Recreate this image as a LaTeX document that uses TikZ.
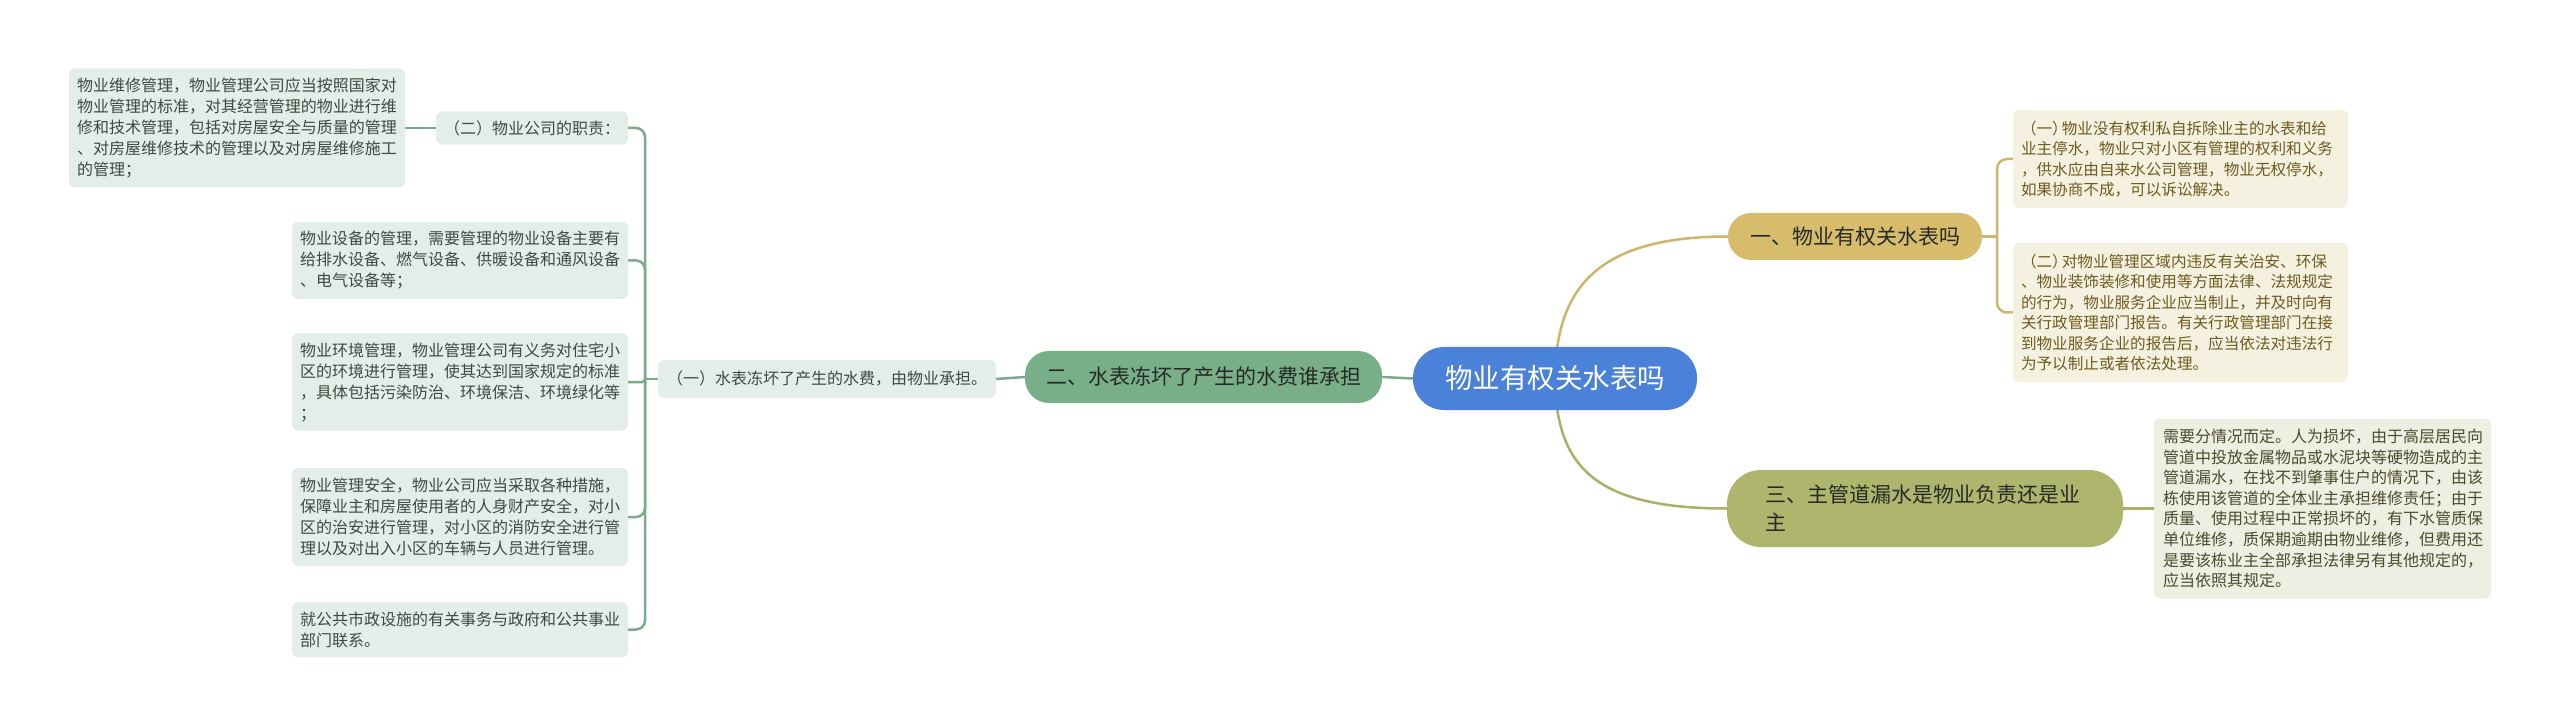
\documentclass[tikz,border=0pt]{standalone}
\usepackage{fontspec}
\setmainfont{Noto Sans CJK SC}
\usetikzlibrary{backgrounds}
\definecolor{rootblue}{HTML}{4A82D9}
\definecolor{grn}{HTML}{78AE88}
\definecolor{grnline}{HTML}{78AC8A}
\definecolor{leafg}{HTML}{E4EEE8}
\definecolor{leaftxt}{HTML}{3C4A42}
\definecolor{gold}{HTML}{D6BC6B}
\definecolor{goldline}{HTML}{CDB56B}
\definecolor{leafgold}{HTML}{F5F1E1}
\definecolor{goldtxt}{HTML}{6E5B1E}
\definecolor{olive}{HTML}{AEB56C}
\definecolor{oliveline}{HTML}{AAB066}
\definecolor{leafolive}{HTML}{EEEFE3}
\definecolor{olivetxt}{HTML}{4A4A2C}
\definecolor{maintxt}{HTML}{262A26}
\begin{document}
\begin{tikzpicture}[x=1pt,y=-1pt,
  leafL/.style={fill=leafg,text=leaftxt,rounded corners=6pt,align=left,inner xsep=8pt,inner ysep=4pt,font=\fontsize{16}{21}\selectfont},
  leafR/.style={fill=leafgold,text=goldtxt,rounded corners=6pt,align=left,inner xsep=8pt,inner ysep=4pt,font=\fontsize{15.6}{20.5}\selectfont},
  leafO/.style={fill=leafolive,text=olivetxt,rounded corners=6pt,align=left,inner xsep=9pt,inner ysep=4pt,font=\fontsize{16}{20.6}\selectfont},
  mainN/.style={text=maintxt,inner sep=0pt,font=\fontsize{21}{28}\selectfont},
  gline/.style={draw=grnline,line width=2.5pt},
  yline/.style={draw=goldline,line width=2.5pt},
  oline/.style={draw=oliveline,line width=2.5pt}
]
\useasboundingbox (0,0) rectangle (2560,727);

% central and main nodes
\node[mainN,fill=rootblue,text=white,font=\fontsize{27.5}{30}\selectfont,minimum width=284pt,minimum height=63pt,rounded corners=31pt] (root) at (1555,378.5) {物业有权关水表吗};
\node[mainN,fill=grn,minimum width=357pt,minimum height=52pt,rounded corners=24pt] (two) at (1203.5,377) {二、水表冻坏了产生的水费谁承担};
\node[mainN,fill=gold,minimum width=254pt,minimum height=47pt,rounded corners=23pt] (one) at (1855,236.5) {一、物业有权关水表吗};
\node[mainN,fill=olive,align=left,text width=320pt,inner xsep=38pt,minimum height=77pt,rounded corners=34pt] (three) at (1925,508.5) {三、主管道漏水是物业负责还是业\\主};

% left side
\node[leafL,minimum width=338pt,minimum height=38pt,align=center] (yi) at (827,379) {（一）水表冻坏了产生的水费，由物业承担。};
\node[leafL,minimum width=192pt,minimum height=33pt,align=center] (er) at (532,128) {（二）物业公司的职责：};
\node[leafL,text width=320pt,minimum height=119pt] (wl1) at (237,128) {物业维修管理，物业管理公司应当按照国家对\\物业管理的标准，对其经营管理的物业进行维\\修和技术管理，包括对房屋安全与质量的管理\\、对房屋维修技术的管理以及对房屋维修施工\\的管理；};
\node[leafL,text width=320pt,minimum height=77pt] (eq) at (460,260.5) {物业设备的管理，需要管理的物业设备主要有\\给排水设备、燃气设备、供暖设备和通风设备\\、电气设备等；};
\node[leafL,text width=320pt,minimum height=97pt] (env) at (460,382) {物业环境管理，物业管理公司有义务对住宅小\\区的环境进行管理，使其达到国家规定的标准\\，具体包括污染防治、环境保洁、环境绿化等\\；};
\node[leafL,text width=320pt,minimum height=98pt] (safe) at (460,517) {物业管理安全，物业公司应当采取各种措施，\\保障业主和房屋使用者的人身财产安全，对小\\区的治安进行管理，对小区的消防安全进行管\\理以及对出入小区的车辆与人员进行管理。};
\node[leafL,text width=320pt,minimum height=55pt] (pub) at (460,629.5) {就公共市政设施的有关事务与政府和公共事业\\部门联系。};

% right side
\node[leafR,text width=319pt,minimum height=98pt] (r1) at (2180.5,159) {（一）\kern-6pt 物业没有权利私自拆除业主的水表和给\\业主停水，物业只对小区有管理的权利和义务\\，供水应由自来水公司管理，物业无权停水，\\如果协商不成，可以诉讼解决。};
\node[leafR,text width=319pt,minimum height=139pt] (r2) at (2180.5,312.5) {（二）\kern-6pt 对物业管理区域内违反有关治安、环保\\、物业装饰装修和使用等方面法律、法规规定\\的行为，物业服务企业应当制止，并及时向有\\关行政管理部门报告。有关行政管理部门在接\\到物业服务企业的报告后，应当依法对违法行\\为予以制止或者依法处理。};
\node[leafO,text width=319pt,minimum height=180pt] (r3) at (2322.5,508.5) {需要分情况而定。人为损坏，由于高层居民向\\管道中投放金属物品或水泥块等硬物造成的主\\管道漏水，在找不到肇事住户的情况下，由该\\栋使用该管道的全体业主承担维修责任；由于\\质量、使用过程中正常损坏的，有下水管质保\\单位维修，质保期逾期由物业维修，但费用还\\是要该栋业主全部承担法律另有其他规定的，\\应当依照其规定。};

% connectors
\coordinate (lt) at (645,379);
\coordinate (rt) at (1997,236.5);
\begin{scope}[on background layer]
  \fill[white] (0,0) rectangle (2560,727);
  \draw[gline] (root.west) -- (two.east);
  \draw[gline] (two.west) -- (yi.east);
  \draw[gline] (yi.west) -- (lt);
  \draw[gline,rounded corners=9pt] (lt) |- (er.east);
  \draw[gline,rounded corners=9pt] (lt) |- (eq.east);
  \draw[gline,rounded corners=3pt] (lt) |- (env.east);
  \draw[gline,rounded corners=9pt] (lt) |- (safe.east);
  \draw[gline,rounded corners=9pt] (lt) |- (pub.east);
  \draw[gline] (wl1.east) -- (er.west);
  \draw[yline] (root.center) .. controls (1556,290) and (1595,236.5) .. (one.west);
  \draw[oline] (root.center) .. controls (1556,467) and (1595,508.5) .. (three.west);
  \draw[yline] (one.east) -- (rt);
  \draw[yline,rounded corners=10pt] (rt) |- (r1.west);
  \draw[yline,rounded corners=10pt] (rt) |- (r2.west);
  \draw[oline] (three.east) -- (r3.west);
\end{scope}
\end{tikzpicture}
\end{document}
